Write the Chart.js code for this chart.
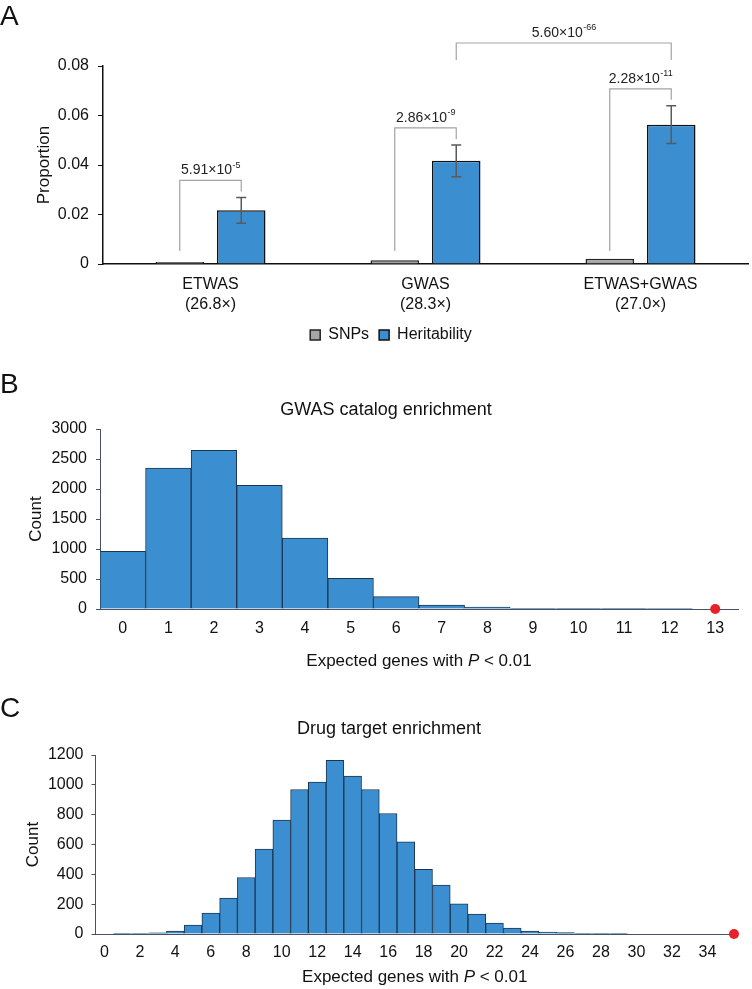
<!DOCTYPE html>
<html>
<head>
<meta charset="utf-8">
<script src="https://cdn.jsdelivr.net/npm/chart.js@4.4.0/dist/chart.umd.min.js"></script>
<style>
  html, body { margin: 0; padding: 0; background: #fff; }
  #wrap { position: relative; width: 752px; height: 989px; }
  canvas { position: absolute; left: 0; }
</style>
</head>
<body>
<div id="wrap">
  <canvas id="chartA" width="752" height="353" style="top:0"></canvas>
  <canvas id="chartB" width="752" height="316" style="top:360px"></canvas>
  <canvas id="chartC" width="752" height="309" style="top:680px"></canvas>
</div>
<script>
// ---- panel A: proportion of SNPs vs heritability
const groups = ['ETWAS', 'GWAS', 'ETWAS+GWAS'];
const folds = ['(26.8×)', '(28.3×)', '(27.0×)'];
const snpProp = [0.0008, 0.0015, 0.0021];
const heritProp = [0.0217, 0.0417, 0.0563];
const heritErr = [0.0052, 0.0064, 0.0076];
const pairP = [['5.91', '-5'], ['2.86', '-9'], ['2.28', '-11']];
const crossP = ['5.60', '-66'];   // GWAS vs ETWAS+GWAS heritability

// ---- panel B: GWAS catalog enrichment (null distribution)
const gwasBins = [0, 1, 2, 3, 4, 5, 6, 7, 8, 9, 10, 11, 12, 13];
const gwasCounts = [960, 2350, 2643, 2060, 1183, 510, 205, 67, 30, 12, 6, 3, 1, 0];
const gwasTicks = [0, 1, 2, 3, 4, 5, 6, 7, 8, 9, 10, 11, 12, 13];
const gwasObserved = 13;

// ---- panel C: drug target enrichment (null distribution)
const drugBins = [0, 1, 2, 3, 4, 5, 6, 7, 8, 9, 10, 11, 12, 13, 14, 15, 16, 17,
  18, 19, 20, 21, 22, 23, 24, 25, 26, 27, 28, 29, 30, 31, 32, 33, 34, 35];
const drugCounts = [0, 2, 3, 8, 20, 60, 140, 241, 379, 569, 763, 969, 1018, 1165, 1058, 969, 808, 618,
  433, 328, 203, 134, 74, 40, 20, 13, 9, 1, 2, 2, 0, 0, 0, 0, 0, 0];
const drugTicks = [0, 2, 4, 6, 8, 10, 12, 14, 16, 18, 20, 22, 24, 26, 28, 30, 32, 34];
const drugObserved = 35.5;

const FONT = '"Liberation Sans", Arial, Helvetica, sans-serif';
const BLUE = '#3b8fd0';
const INK = '#111';
const AXIS = '#4a5068';

Chart.defaults.font.family = FONT;
Chart.defaults.color = INK;
Chart.defaults.animation = false;

function fontStr(size, italic) {
  return (italic ? 'italic ' : '') + size + 'px ' + FONT;
}

// free text (panel letters, titles, rich axis titles with italic P)
function textLayer(items) {
  return {
    id: 'textLayer',
    afterDraw(chart) {
      const { ctx, chartArea } = chart;
      ctx.save();
      ctx.fillStyle = INK;
      ctx.textAlign = 'left';
      items.forEach(it => {
        const cx = it.x === 'area' ? (chartArea.left + chartArea.right) / 2 : it.x;
        const widths = it.parts.map(p => { ctx.font = fontStr(it.size, p.i); return ctx.measureText(p.t).width; });
        const total = widths.reduce((a, b) => a + b, 0);
        let x = it.align === 'left' ? cx : cx - total / 2;
        ctx.textBaseline = it.baseline || 'middle';
        it.parts.forEach((p, k) => {
          ctx.font = fontStr(it.size, p.i);
          ctx.fillText(p.t, x, it.y);
          x += widths[k];
        });
      });
      ctx.restore();
    }
  };
}

function drawSci(ctx, parts, cx, cy) {
  const base = parts[0] + '×10';
  ctx.font = fontStr(14);
  const w1 = ctx.measureText(base).width;
  ctx.font = fontStr(9);
  const w2 = ctx.measureText(parts[1]).width;
  const x = cx - (w1 + w2) / 2;
  ctx.fillStyle = '#222';
  ctx.textAlign = 'left';
  ctx.textBaseline = 'middle';
  ctx.font = fontStr(14);
  ctx.fillText(base, x, cy);
  ctx.font = fontStr(9);
  ctx.fillText(parts[1], x + w1 + 0.5, cy - 5);
}

// error bars + significance brackets for panel A
const annotA = {
  id: 'annotA',
  afterDatasetsDraw(chart) {
    const { ctx, scales: { y }, chartArea } = chart;
    const snpBars = chart.getDatasetMeta(0).data;
    const herBars = chart.getDatasetMeta(1).data;
    ctx.save();
    ctx.strokeStyle = '#5a5a5a';
    ctx.lineWidth = 1.5;
    herBars.forEach((b, i) => {
      const top = y.getPixelForValue(heritProp[i] + heritErr[i]);
      const bot = y.getPixelForValue(heritProp[i] - heritErr[i]);
      ctx.beginPath();
      ctx.moveTo(b.x, top); ctx.lineTo(b.x, bot);
      ctx.moveTo(b.x - 5, top); ctx.lineTo(b.x + 5, top);
      ctx.moveTo(b.x - 5, bot); ctx.lineTo(b.x + 5, bot);
      ctx.stroke();
    });

    ctx.strokeStyle = '#a3a3a3';
    ctx.lineWidth = 1.2;
    const legBottom = y.getPixelForValue(0) - 13;
    herBars.forEach((b, i) => {
      const errTop = y.getPixelForValue(heritProp[i] + heritErr[i]);
      const level = errTop - 17;
      const x0 = snpBars[i].x, x1 = b.x;
      ctx.beginPath();
      ctx.moveTo(x0, legBottom); ctx.lineTo(x0, level);
      ctx.lineTo(x1, level); ctx.lineTo(x1, errTop - 6);
      ctx.stroke();
      drawSci(ctx, pairP[i], (x0 + x1) / 2, level - 10);
    });

    // GWAS vs ETWAS+GWAS
    const xa = herBars[1].x, xb = herBars[2].x, top = chartArea.top;
    ctx.beginPath();
    ctx.moveTo(xa, top - 6); ctx.lineTo(xa, top - 23);
    ctx.lineTo(xb, top - 23); ctx.lineTo(xb, top - 6);
    ctx.stroke();
    drawSci(ctx, crossP, (xa + xb) / 2, top - 33);
    ctx.restore();
  }
};

new Chart(document.getElementById('chartA'), {
  type: 'bar',
  data: {
    labels: groups.map((g, i) => [g, folds[i]]),
    datasets: [
      { label: 'SNPs', data: snpProp, backgroundColor: '#a6a6a6', borderColor: '#222', borderWidth: 1.5, borderSkipped: 'bottom' },
      { label: 'Heritability', data: heritProp, backgroundColor: BLUE, borderColor: '#111', borderWidth: 1.5, borderSkipped: 'bottom' }
    ]
  },
  options: {
    responsive: false,
    layout: { padding: { top: 66, left: 34, right: 4, bottom: 0 } },
    datasets: { bar: { categoryPercentage: 0.572, barPercentage: 0.789 } },
    plugins: {
      legend: {
        position: 'bottom',
        labels: { boxWidth: 10, boxHeight: 10, padding: 10, color: INK, font: { size: 16 } }
      },
      tooltip: { enabled: false }
    },
    scales: {
      x: {
        grid: { display: false, drawTicks: false },
        border: { color: INK, width: 1.5 },
        ticks: { padding: 11, color: INK, font: { size: 16, lineHeight: 1.25 } },
        afterFit: s => { s.height = 53; }
      },
      y: {
        min: 0, max: 0.08,
        grid: { drawOnChartArea: false, drawTicks: true, tickLength: 5, color: INK },
        border: { color: INK, width: 1.5 },
        ticks: { stepSize: 0.02, padding: 9, color: INK, font: { size: 16 }, callback: v => String(+v.toFixed(2)) },
        title: { display: true, text: 'Proportion', color: INK, font: { size: 17 }, padding: 0 },
        afterFit: s => { s.width = 69; }
      }
    }
  },
  plugins: [annotA, textLayer([
    { parts: [{ t: 'A' }], x: 0, y: 25, size: 28, align: 'left', baseline: 'alphabetic' }
  ])]
});

function histogram(canvasId, opts) {
  return new Chart(document.getElementById(canvasId), {
    type: 'bar',
    data: {
      datasets: [
        {
          data: opts.bins.map((b, i) => ({ x: b, y: opts.counts[i] })),
          backgroundColor: BLUE, borderColor: '#1d3650', borderWidth: 1,
          categoryPercentage: 1, barPercentage: 1, order: 2
        },
        {
          type: 'scatter', data: [{ x: opts.observed, y: 0 }],
          pointRadius: 5, pointHoverRadius: 5, backgroundColor: '#e8202a', borderWidth: 0,
          clip: false, order: 1
        }
      ]
    },
    options: {
      responsive: false,
      layout: { padding: opts.padding },
      plugins: { legend: { display: false }, tooltip: { enabled: false } },
      scales: {
        x: {
          type: 'linear', min: -0.5, max: opts.xMax, offset: false,
          grid: { display: false, drawTicks: false },
          border: { color: AXIS, width: 1 },
          ticks: { padding: opts.xPad, color: INK, font: { size: 16, lineHeight: 1.2 }, autoSkip: false, maxRotation: 0, callback: v => String(v) },
          afterBuildTicks: s => { s.ticks = opts.ticks.map(v => ({ value: v })); },
          afterFit: s => { s.height = opts.xHeight; }
        },
        y: {
          min: 0, max: opts.yMax,
          grid: { drawOnChartArea: false, drawTicks: true, tickLength: 4, color: AXIS },
          border: { color: AXIS, width: 1 },
          ticks: { stepSize: opts.yStep, padding: opts.yPad, color: INK, font: { size: 16 }, callback: v => String(v) },
          title: { display: true, text: 'Count', color: INK, font: { size: 17 }, padding: 0 },
          afterFit: s => { s.width = opts.yWidth; }
        }
      }
    },
    plugins: [textLayer([
      { parts: [{ t: opts.letter }], x: 0, y: opts.letterY, size: 28, align: 'left', baseline: 'alphabetic' },
      { parts: [{ t: opts.title }], x: opts.titleX, y: opts.titleY, size: 18 },
      { parts: [{ t: 'Expected genes with ' }, { t: 'P', i: true }, { t: ' < 0.01' }], x: 'area', y: opts.xTitleY, size: 17 }
    ])]
  });
}

histogram('chartB', {
  bins: gwasBins, counts: gwasCounts, observed: gwasObserved, ticks: gwasTicks,
  xMax: 13.5, yMax: 3000, yStep: 500,
  padding: { top: 69, left: 26, right: 14, bottom: 0 },
  yWidth: 74, xHeight: 67, xPad: 10, yPad: 9,
  letter: 'B', letterY: 33, title: 'GWAS catalog enrichment', titleX: 386, titleY: 50, xTitleY: 301
});

histogram('chartC', {
  bins: drugBins, counts: drugCounts, observed: drugObserved, ticks: drugTicks,
  xMax: 35.5, yMax: 1200, yStep: 200,
  padding: { top: 75, left: 23, right: 18, bottom: 0 },
  yWidth: 72.5, xHeight: 55, xPad: 9, yPad: 8,
  letter: 'C', letterY: 37, title: 'Drug target enrichment', titleX: 389, titleY: 49, xTitleY: 297
});
</script>
</body>
</html>
